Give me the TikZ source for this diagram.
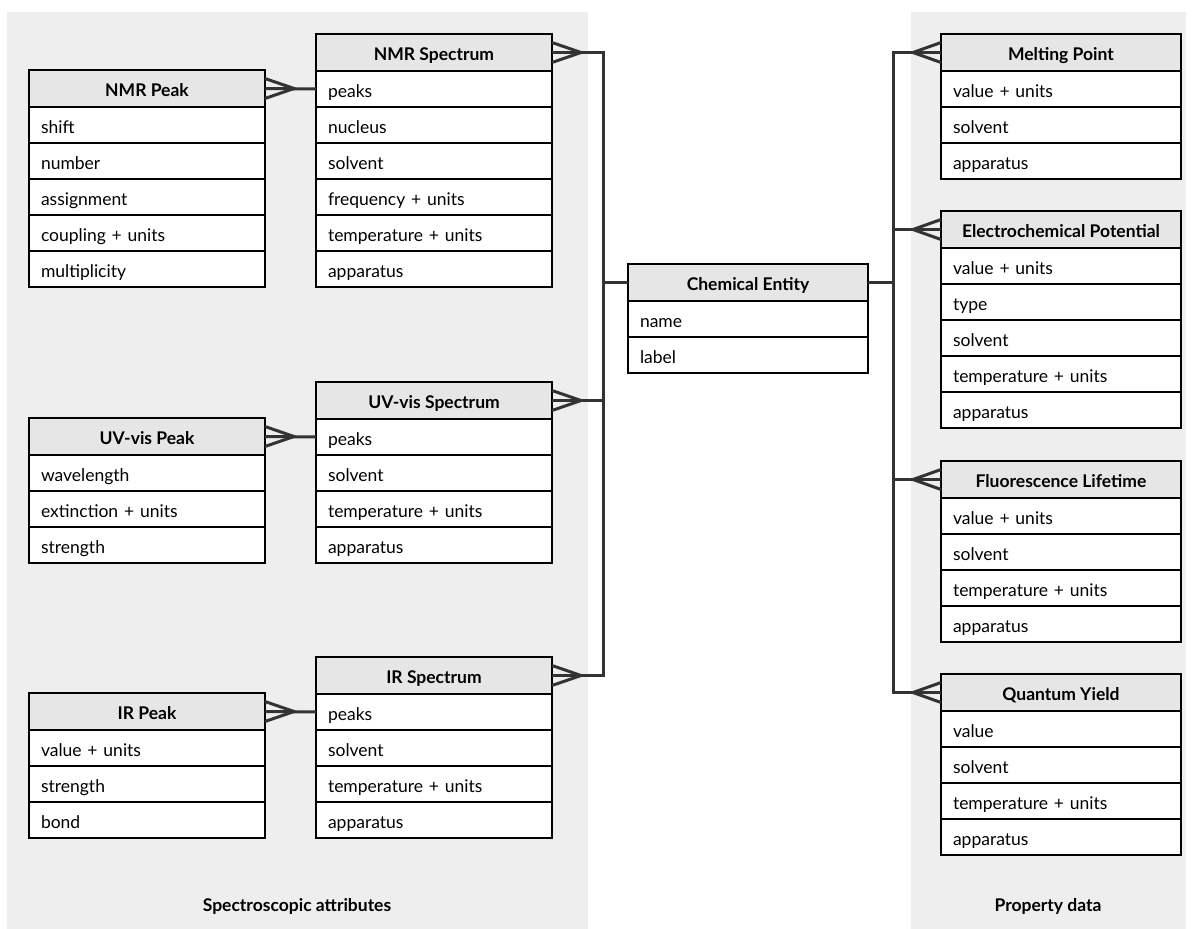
\documentclass[tikz,border=0pt]{standalone}
\usepackage{fontspec}
\setmainfont{Lato}
\usetikzlibrary{calc}

\definecolor{panelgray}{HTML}{EEEEEE}
\definecolor{headgray}{HTML}{E6E6E6}
\definecolor{linkgray}{HTML}{333333}

\tikzset{
	erbase/.style={draw=black, line width=2pt, outer sep=0pt, inner xsep=12pt, inner ysep=0pt,
		minimum height=36pt, text height=16pt, text depth=0pt, font=\fontsize{17.5}{21}\selectfont},
	erhead/.style={erbase, fill=headgray, minimum height=37pt, font=\fontsize{17.5}{21}\selectfont\bfseries, align=center},
	errow/.style={erbase, fill=white, align=left},
	conn/.style={draw=linkgray, line width=3pt},
	panel/.style={fill=panelgray},
	paneltitle/.style={font=\fontsize{17.5}{21}\selectfont\bfseries, anchor=base},
}

% table: [width]{name}{top left}{title}{rows}
\newcommand{\ertable}[5][236]{%
	\pgfmathsetmacro{\rowtw}{#1-24}
	\node[erhead, minimum width=#1pt, anchor=north west, alias=#2-0] (#2) at #3 {#4};
	\foreach \rowtext [count=\i] in {#5} {
		\pgfmathtruncatemacro{\j}{\i-1}
		\node[errow, text width=\rowtw pt, anchor=north] (#2-\i) at (#2-\j.south) {\rowtext};
	}
}

% many-end: {anchor}{length, + right / - left}
\newcommand{\crowfoot}[2]{%
	\draw[conn] ($(#1)+(0,-10)$) -- ($(#1)+(#2,0)$) -- ($(#1)+(0,10)$);
}

\begin{document}
\begin{tikzpicture}[x=1pt, y=-1pt]
	\useasboundingbox (0,0) rectangle (1195,929);
	% panels
	\fill[panel] (7,12) rectangle (588,929);
	\fill[panel] (911,12) rectangle (1186,929);
	\node[paneltitle] (spectitle) at (297,911) {Spectroscopic attributes};
	\node[paneltitle] (proptitle) at (1048,911) {Property data};

	% spectra
	\ertable{nmrspec}{(316,34)}{NMR Spectrum}{peaks, nucleus, solvent, frequency + units, temperature + units, apparatus}
	\ertable{nmrpeak}{(29,70)}{NMR Peak}{shift, number, assignment, coupling + units, multiplicity}
	\ertable{uvspec}{(316,382)}{UV-vis Spectrum}{peaks, solvent, temperature + units, apparatus}
	\ertable{uvpeak}{(29,418)}{UV-vis Peak}{wavelength, extinction + units, strength}
	\ertable{irspec}{(316,657)}{IR Spectrum}{peaks, solvent, temperature + units, apparatus}
	\ertable{irpeak}{(29,693)}{IR Peak}{value + units, strength, bond}

	% entity
	\ertable[240]{chem}{(628,264)}{Chemical Entity}{name, label}

	% properties
	\ertable[240]{melting}{(941,34)}{Melting Point}{value + units, solvent, apparatus}
	\ertable[240]{echem}{(941,211)}{Electrochemical Potential}{value + units, type, solvent, temperature + units, apparatus}
	\ertable[240]{fluor}{(941,461)}{Fluorescence Lifetime}{value + units, solvent, temperature + units, apparatus}
	\ertable[240]{qyield}{(941,674)}{Quantum Yield}{value, solvent, temperature + units, apparatus}

	% peaks to spectra
	\draw[conn] (nmrpeak.east) -- (nmrspec-1.west);
	\draw[conn] (uvpeak.east) -- (uvspec-1.west);
	\draw[conn] (irpeak.east) -- (irspec-1.west);
	\crowfoot{nmrpeak.east}{29}
	\crowfoot{uvpeak.east}{29}
	\crowfoot{irpeak.east}{29}

	% spectra to entity
	\coordinate (lbus) at (603,0);
	\draw[conn] (nmrspec.east) -- (nmrspec.east -| lbus) -- (irspec.east -| lbus) -- (irspec.east);
	\draw[conn] (uvspec.east) -- (uvspec.east -| lbus);
	\draw[conn] (chem.west) -- (chem.west -| lbus);
	\crowfoot{nmrspec.east}{29}
	\crowfoot{uvspec.east}{29}
	\crowfoot{irspec.east}{29}

	% entity to properties
	\coordinate (rbus) at (893,0);
	\draw[conn] (melting.west) -- (melting.west -| rbus) -- (qyield.west -| rbus) -- (qyield.west);
	\draw[conn] (echem.west) -- (echem.west -| rbus);
	\draw[conn] (fluor.west) -- (fluor.west -| rbus);
	\draw[conn] (chem.east) -- (chem.east -| rbus);
	\crowfoot{melting.west}{-28}
	\crowfoot{echem.west}{-28}
	\crowfoot{fluor.west}{-28}
	\crowfoot{qyield.west}{-28}
\end{tikzpicture}
\end{document}
